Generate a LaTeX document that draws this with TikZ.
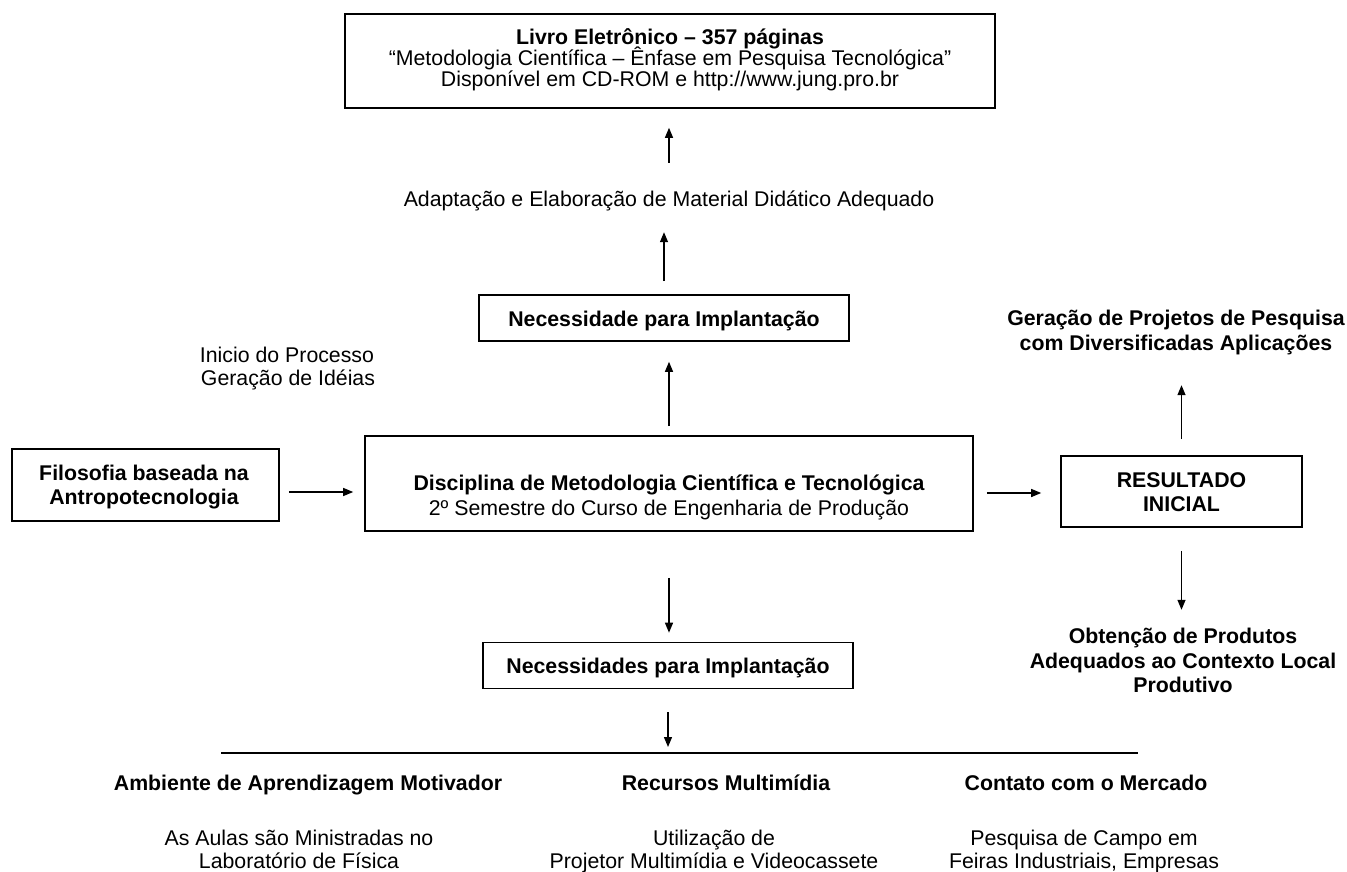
\documentclass[tikz,border=0pt]{standalone}
\usepackage{fontspec}
\setmainfont{Liberation Sans}
\usetikzlibrary{arrows.meta}
\begin{document}
\begin{tikzpicture}[x=1pt,y=-1pt,
  box/.style={draw, line width=1.6pt, inner sep=0pt},
  txt/.style={inner sep=0pt, anchor=base, text height=15.5pt, text depth=4.5pt, font=\fontsize{21.3}{24.5}\selectfont},
  btxt/.style={txt, font=\bfseries\fontsize{21.3}{24.5}\selectfont},
  arr/.style={line width=1.3pt, -{Triangle[length=10pt,width=8pt]}},
  rule/.style={line width=2pt}]
\useasboundingbox[fill=white] (0,0) rectangle (1347,872);

% top book box
\node[box, minimum width=650pt, minimum height=94pt] (book) at (670,61) {};
\node[btxt] (book1) at (670,45) {Livro Eletrônico – 357 páginas};
\node[txt] (book2) at (670,66) {“Metodologia Científica – Ênfase em Pesquisa Tecnológica”};
\node[txt] (book3) at (670,87) {Disponível em CD-ROM e http://www.jung.pro.br};

\node[txt] (adapt) at (669,206) {Adaptação e Elaboração de Material Didático Adequado};

\node[box, minimum width=370pt, minimum height=46pt] (nec1) at (664,318) {};
\node[btxt] (nec1t) at (664,326) {Necessidade para Implantação};

\node[txt] (ini1) at (287,362) {Inicio do Processo};
\node[txt] (ini2) at (288,385) {Geração de Idéias};

% central box
\node[box, minimum width=608pt, minimum height=95pt] (disc) at (669,483.5) {};
\node[btxt] (disc1) at (669,490) {Disciplina de Metodologia Científica e Tecnológica};
\node[txt] (disc2) at (669,515) {2º Semestre do Curso de Engenharia de Produção};

% left box
\node[box, minimum width=267pt, minimum height=72pt] (filo) at (145.5,485) {};
\node[btxt] (filo1) at (144,480) {Filosofia baseada na};
\node[btxt] (filo2) at (144,504) {Antropotecnologia};

% result box
\node[box, minimum width=241pt, minimum height=71pt] (res) at (1181.5,491.5) {};
\node[btxt] (res1) at (1181.5,487) {RESULTADO};
\node[btxt] (res2) at (1181.5,511) {INICIAL};

\node[btxt] (gp1) at (1176,325) {Geração de Projetos de Pesquisa};
\node[btxt] (gp2) at (1176,350) {com Diversificadas Aplicações};

\node[btxt] (ob1) at (1183,643) {Obtenção de Produtos};
\node[btxt] (ob2) at (1183,668) {Adequados ao Contexto Local};
\node[btxt] (ob3) at (1183,692) {Produtivo};

% lower box
\node[box, minimum width=370pt, minimum height=46pt] (nec2) at (668,665.5) {};
\node[btxt] (nec2t) at (668,673) {Necessidades para Implantação};

% horizontal rule
\coordinate (lineL) at (221,753);
\coordinate (lineR) at (1138,753);
\draw[rule] (lineL) -- (lineR);

% bottom columns
\node[btxt] (h1) at (308,790) {Ambiente de Aprendizagem Motivador};
\node[btxt] (h2) at (726,790) {Recursos Multimídia};
\node[btxt] (h3) at (1086,790) {Contato com o Mercado};
\node[txt] (s1a) at (299,845) {As Aulas são Ministradas no};
\node[txt] (s1b) at (299,868) {Laboratório de Física};
\node[txt] (s2a) at (714,845) {Utilização de};
\node[txt] (s2b) at (714,868) {Projetor Multimídia e Videocassete};
\node[txt] (s3a) at (1084,845) {Pesquisa de Campo em};
\node[txt] (s3b) at (1084,868) {Feiras Industriais, Empresas};

% arrows
\draw[arr, shorten <=27.5pt, shorten >=19pt] (adapt.north) -- (adapt.north |- book.south);
\draw[arr, shorten <=13pt, shorten >=21.5pt] (nec1.north) -- (nec1.north |- adapt.south);
\draw[arr, shorten <=9pt, shorten >=20pt] (disc.north) -- (disc.north |- nec1.south);
\draw[arr, shorten <=46pt, shorten >=9pt] (disc.south) -- (disc.south |- nec2.north);
\draw[arr, shorten <=23pt, shorten >=6pt] (nec2.south) -- (nec2.south |- lineL);
\draw[arr, shorten <=9pt, shorten >=11pt] ([yshift=-7pt]filo.east) -- ([yshift=-7pt]filo.east -| disc.west);
\draw[arr, shorten <=13pt, shorten >=19pt] ([yshift=-9.5pt]disc.east) -- ([yshift=-9.5pt]disc.east -| res.west);
\draw[arr, shorten <=16pt, shorten >=30.5pt] (res.north) -- (res.north |- gp2.south);
\draw[arr, shorten <=23pt, shorten >=17.5pt] (res.south) -- (res.south |- ob1.north);
\end{tikzpicture}
\end{document}
